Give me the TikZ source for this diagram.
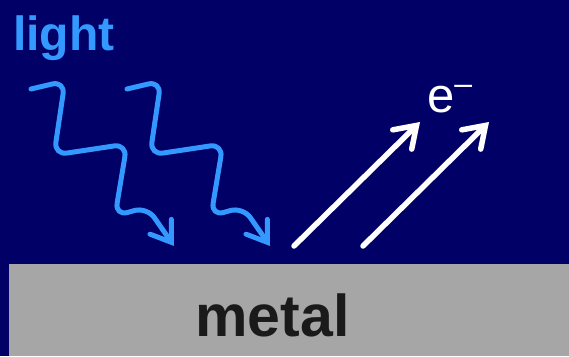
\documentclass[tikz,border=0pt]{standalone}
\usepackage{fontspec}
\setmainfont{Liberation Sans}
\usetikzlibrary{arrows.meta}
\definecolor{navy}{HTML}{000066}
\definecolor{lightblue}{HTML}{3399FF}
\definecolor{metalgray}{HTML}{A6A6A6}
\definecolor{textdark}{HTML}{1A1A1A}
\begin{document}
\begin{tikzpicture}[x=1pt,y=-1pt,
  photon/.style={draw=lightblue,line width=5pt,rounded corners=13pt,line cap=round,line join=round,
    -{Straight Barb[length=19pt,width=26pt,line cap=round,line join=miter]}},
  electron/.style={draw=white,line width=5.5pt,line cap=round,
    -{Straight Barb[length=20pt,width=27pt,line cap=round]}},
  lbl/.style={inner sep=0pt,outer sep=0pt}]
\fill[navy] (0,0) rectangle (569,356);
\useasboundingbox (0,0) rectangle (569,356);
\fill[metalgray] (9,264) rectangle (569,356);
\node[lbl,anchor=base west,text=lightblue,font=\fontsize{48}{48}\selectfont\bfseries] (light) at (13,50) {light};
\node[lbl,anchor=base,text=textdark,font=\fontsize{59}{59}\selectfont\bfseries] (metal) at (272.5,336) {metal};
\node[lbl,anchor=base west,text=white,font=\fontsize{49}{49}\selectfont] (elec) at (427,112) {e\raisebox{18pt}{\fontsize{32}{32}\selectfont –}};
% photons
\foreach \dx/\n in {0/a,96/b}{
  \coordinate (s\n) at (31+\dx,89);
  \coordinate (t\n) at (174+\dx,246);
  \draw[photon] (s\n) -- (65+\dx,81) -- (54+\dx,155) -- (127+\dx,144) -- (115+\dx,216) -- (147+\dx,207) -- (t\n);
}
% electrons
\coordinate (e1s) at (294,246);
\coordinate (e1t) at (420,122);
\coordinate (e2s) at (363,246);
\coordinate (e2t) at (489,122);
\draw[electron] (e1s) -- (e1t);
\draw[electron] (e2s) -- (e2t);
\end{tikzpicture}
\end{document}
